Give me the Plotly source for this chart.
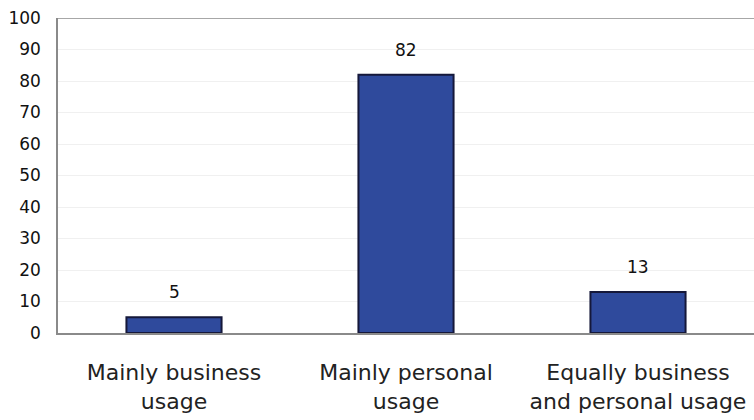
import plotly.graph_objects as go

categories = ["Mainly business<br>usage", "Mainly personal<br>usage", "Equally business<br>and personal usage"]
values = [5, 82, 13]
y_ticks = list(range(0, 101, 10))

fig = go.Figure()
fig.add_trace(go.Bar(
    x=categories, y=values,
    marker=dict(color="#2F4A9C", line=dict(color="#15183A", width=2)),
    width=0.41,
))
for c, v in zip(categories, values):
    fig.add_annotation(x=c, y=v, text=str(v), showarrow=False,
                       yanchor="bottom", yshift=13,
                       font=dict(family="DejaVu Sans", size=17, color="#111"))
fig.update_layout(
    width=754, height=420,
    margin=dict(l=58, r=0, t=18, b=87),
    plot_bgcolor="white", paper_bgcolor="white",
    showlegend=False,
)
fig.update_yaxes(
    range=[0, 100], tickvals=y_ticks,
    showgrid=True, gridcolor="#F0F0F0", gridwidth=1,
    showline=True, linecolor="#8A8A8A", linewidth=1.5,
    tickfont=dict(family="DejaVu Sans", size=17, color="#111"),
    ticks="", ticklabelstandoff=12, zeroline=False,
)
fig.update_xaxes(
    showline=True, linecolor="#8A8A8A", linewidth=1.5,
    tickfont=dict(family="DejaVu Sans", size=22, color="#222"),
    ticks="", ticklabelstandoff=19,
)
fig.add_shape(type="line", xref="paper", yref="y", x0=0, x1=1, y0=100, y1=100,
              line=dict(color="#8A8A8A", width=1.5))
fig.write_html("out.html")
